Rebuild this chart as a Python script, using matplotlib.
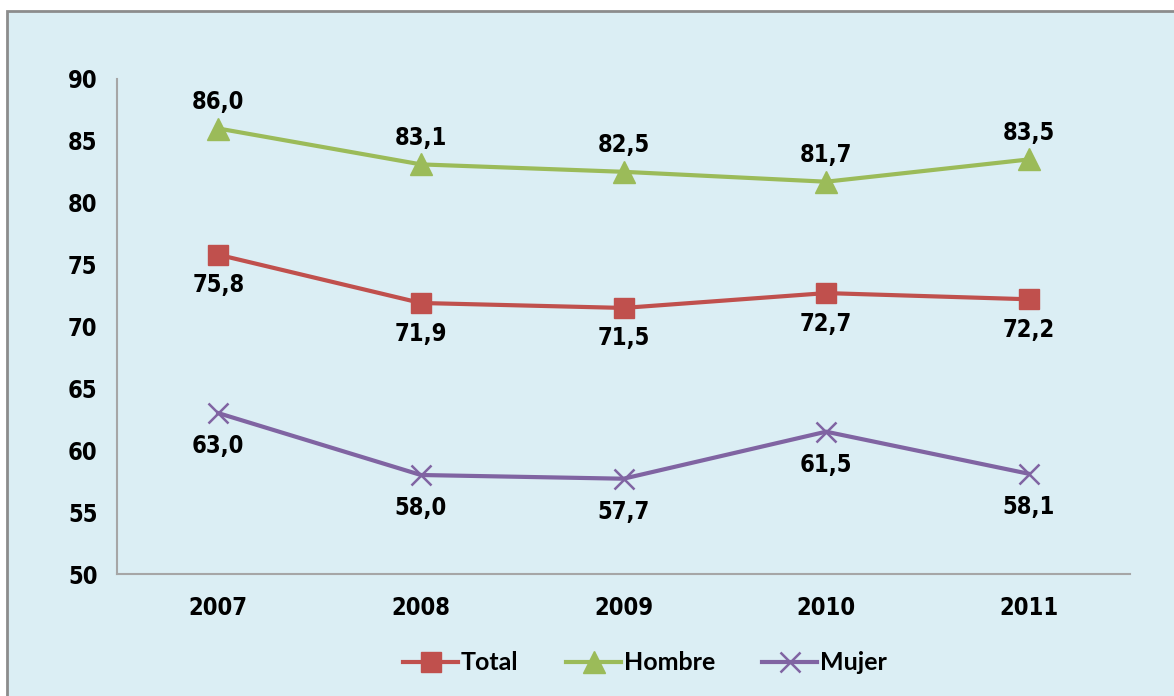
import matplotlib.pyplot as plt
from matplotlib.patches import Rectangle

# Datos del gráfico (porcentajes por año)
anios = ['2007', '2008', '2009', '2010', '2011']
total = [75.8, 71.9, 71.5, 72.7, 72.2]
hombre = [86.0, 83.1, 82.5, 81.7, 83.5]
mujer = [63.0, 58.0, 57.7, 61.5, 58.1]

fondo = '#DBEEF4'

fig = plt.figure(figsize=(11.74, 6.96), dpi=100)
fig.patch.set_facecolor('white')

# Marco del área del gráfico (cortado a la derecha y abajo)
marco = Rectangle((7 / 1174, -0.02), 1.02, 1 - 11 / 696 + 0.02,
                  transform=fig.transFigure, facecolor=fondo,
                  edgecolor='#8C8C8C', linewidth=2, zorder=-10)
fig.patches.append(marco)

ax = fig.add_axes([117 / 1174, 1 - 574 / 696, (1130 - 117) / 1174, (574 - 79) / 696])
ax.set_facecolor('none')

x = range(len(anios))
ax.plot(x, total, color='#C0504D', lw=3, marker='s', ms=15, label='Total')
ax.plot(x, hombre, color='#9BBB59', lw=3, marker='^', ms=16, label='Hombre')
ax.plot(x, mujer, color='#8064A2', lw=3, marker='x', ms=14, mew=1.8, label='Mujer')

fp = dict(family='DejaVu Sans', weight='bold', stretch='condensed', size=17)

# Etiquetas de datos
def etiquetas(valores, dy):
    for i, v in enumerate(valores):
        ax.annotate(f'{v:.1f}'.replace('.', ','), (i, v), xytext=(0, dy),
                    textcoords='offset points', ha='center', va='center', **fp)

etiquetas(hombre, 19)
etiquetas(total, -22)
etiquetas(mujer, -24)

ax.set_xlim(-0.5, 4.5)
ax.set_ylim(50, 90)
ax.set_yticks(range(50, 91, 5))
ax.set_xticks(list(x))
ax.set_xticklabels(anios)
ax.tick_params(length=0)
ax.tick_params(axis='y', pad=14)
ax.tick_params(axis='x', pad=16)
for lab in ax.get_xticklabels() + ax.get_yticklabels():
    lab.set(**fp)

for s in ['top', 'right']:
    ax.spines[s].set_visible(False)
for s in ['left', 'bottom']:
    ax.spines[s].set_color('#A6A6A6')
    ax.spines[s].set_linewidth(1.5)

fig.legend(loc='center', bbox_to_anchor=(645 / 1174, 1 - 663 / 696), ncol=3,
           frameon=False, handlelength=2.2, handletextpad=0.1, columnspacing=1.9,
           prop={'family': ['Lato', 'DejaVu Sans'], 'weight': 'bold', 'size': 18})

plt.savefig('out.png', dpi=100, facecolor=fig.get_facecolor())
